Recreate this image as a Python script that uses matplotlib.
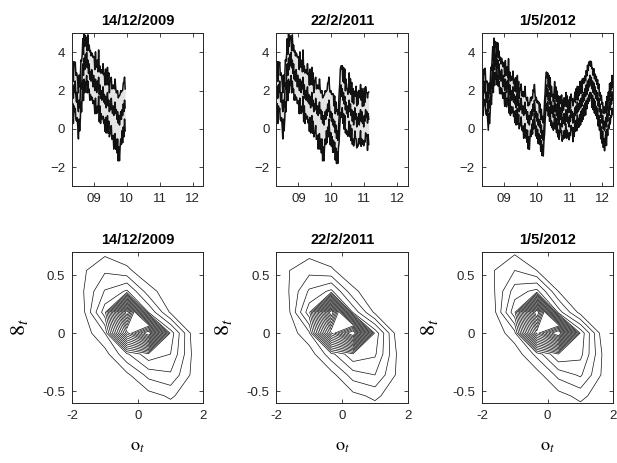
import numpy as np
import matplotlib
matplotlib.use("Agg")
from matplotlib import pyplot as plt

plt.rcParams['font.family'] = ['Liberation Sans', 'DejaVu Sans']
plt.rcParams['mathtext.fontset'] = 'stix'

#### data ####
titles = ["14/12/2009", "22/2/2011", "1/5/2012"]

# weekly path, starting early May 2008 (one row = one quarter)
start_year = 2008.333
steps_per_year = 52
mid = [1.8, 2.2, 1.6, 2.3, 1.9, 2.5, 1.7, 1.4, 1.9, 1.2, 0.9, 1.5, 1.1,
       1.8, 2.4, 2.1, 2.9, 3.4, 2.8, 3.7, 3.1, 3.9, 3.3, 4.0, 3.2, 3.6,
       2.9, 3.4, 2.6, 3.0, 2.5, 3.1, 2.7, 2.2, 2.8, 2.4, 2.0, 2.6, 2.3,
       1.9, 2.5, 2.1, 2.7, 1.8, 2.3, 1.6, 2.0, 1.5, 1.9, 2.2, 1.4, 1.8,
       1.3, 1.7, 1.1, 1.6, 1.9, 1.2, 1.5, 0.9, 1.3, 1.0, 1.6, 1.1, 0.8,
       1.2, 0.7, 1.1, 1.4, 0.8, 1.0, 0.5, 0.9, 0.3, 0.7, 0.2, 0.6, 0.9,
       0.5, 1.0, 0.7, 1.3, 0.9, 1.5, 1.1, 0.6, 0.9, 0.4, 0.8, 0.2, 0.5,
       0.1, 0.4, -0.2, 0.2, -0.5, -0.1, -0.6, 0.0, 0.6, 1.2, 1.8, 2.3, 1.7,
       2.1, 1.5, 1.9, 1.3, 1.7, 1.0, 1.4, 0.8, 1.2, 0.6, 1.1, 1.5, 0.9,
       1.3, 0.7, 1.0, 0.4, 0.9, 0.2, 0.6, 1.1, 0.5, 0.8, 0.1, 0.6, 0.3,
       0.8, 0.2, 0.7, 1.0, 0.4, 0.9, 0.3, 0.6, 0.1, 0.7, 0.4, 1.0, 0.6,
       0.9, 0.3, 0.8, 0.5, 1.1, 0.7, 1.2, 0.8, 1.4, 0.9, 1.3, 1.0, 1.5,
       1.1, 1.6, 1.2, 1.8, 1.4, 1.9, 1.5, 2.1, 1.7, 2.3, 1.8, 2.5, 2.0,
       2.6, 2.2, 2.8, 2.3, 2.7, 2.1, 2.5, 1.9, 2.4, 1.8, 2.2, 1.6, 2.0,
       1.5, 1.9, 1.2, 1.6, 0.9, 1.3, 0.6, 1.0, 0.3, 0.7, 0.0, 0.4, -0.1,
       0.3, 0.6, 0.1, 0.8, 0.4, 1.1, 0.7, 1.4, 1.0, 1.6, 1.3, 1.9, 1.5,
       1.8]
up_dev = [0.9, 1.2, 0.8, 1.1, 1.3, 0.9, 1.0, 1.4, 0.8, 1.1, 0.9, 1.2, 1.0,
          0.8, 1.1, 1.3, 0.9, 1.2, 1.0, 1.4, 1.1, 0.9, 1.3, 0.7, 0.8, 1.2,
          1.1, 0.9, 1.3, 1.0, 1.2, 0.8, 1.1, 1.4, 0.9, 1.2, 1.0, 1.3, 0.9,
          1.2, 1.0, 0.8, 1.3, 1.1, 0.9, 1.2, 1.0, 1.4, 0.9, 1.1, 1.3, 1.0,
          0.9, 1.3, 1.1, 0.8, 1.2, 1.0, 1.3, 0.9, 1.1, 1.4, 1.0, 0.9, 1.2,
          1.0, 1.3, 0.9, 1.1, 1.2, 0.8, 1.3, 1.0, 1.2, 0.9, 1.4, 1.1, 1.0,
          1.3, 0.9, 1.2, 1.0, 1.4, 1.1, 0.9, 1.2, 1.0, 1.3, 0.9, 1.5, 1.2,
          1.0, 1.2, 0.9, 1.1, 1.3, 1.0, 1.2, 0.9, 1.1, 1.0, 1.2, 0.9, 1.3,
          1.1, 0.9, 1.2, 1.0, 1.3, 0.9, 1.1, 1.2, 0.8, 1.1, 1.0, 1.3, 0.9,
          1.2, 1.0, 1.3, 0.9, 1.1, 1.0, 1.2, 0.8, 1.1, 1.3, 1.0, 1.2, 0.9,
          1.1, 1.3, 0.9, 1.2, 1.0, 1.1, 0.8, 1.2, 1.0, 1.3, 0.9, 1.1, 1.2,
          0.9, 1.2, 1.0, 1.3, 1.1, 0.9, 1.2, 1.0, 1.1, 0.8, 1.2, 1.0, 1.3,
          1.0, 1.2, 0.9, 1.1, 1.3, 1.0, 1.2, 0.9, 1.1, 1.0, 1.3, 1.1, 1.4,
          1.2, 1.5, 1.0, 1.3, 1.1, 1.4, 0.9, 1.2, 1.0, 1.1, 0.9, 1.2, 1.0,
          1.1, 0.9, 1.2, 1.0, 1.1, 0.8, 1.2, 1.0, 1.3, 0.9, 1.1, 1.0, 1.2,
          0.9, 1.1, 1.0, 1.2, 0.8, 1.1, 1.0, 1.3, 0.9, 1.1, 1.0, 1.2, 0.9,
          1.0]
lo_dev = [1.1, 0.8, 1.2, 1.0, 0.9, 1.3, 1.1, 0.9, 1.2, 1.0, 1.3, 0.9, 1.1,
          1.2, 0.9, 1.1, 1.0, 0.8, 1.2, 1.0, 1.1, 1.3, 0.9, 1.1, 1.2, 1.0,
          0.9, 1.2, 1.0, 1.1, 0.9, 1.3, 1.0, 0.8, 1.2, 1.0, 1.1, 0.9, 1.2,
          1.0, 1.2, 1.1, 0.9, 1.3, 1.0, 1.2, 1.1, 0.9, 1.2, 1.4, 1.0, 1.2,
          1.3, 1.0, 1.2, 1.4, 1.1, 1.3, 1.0, 1.2, 1.4, 1.1, 1.3, 1.5, 1.2,
          1.4, 1.6, 1.3, 1.5, 1.7, 1.4, 1.6, 1.3, 1.8, 1.5, 1.7, 1.4, 1.3,
          1.2, 1.0, 1.3, 1.1, 1.2, 0.9, 1.1, 1.3, 1.0, 1.2, 1.1, 1.3, 1.0,
          1.2, 1.0, 1.3, 1.1, 1.2, 1.0, 1.1, 0.9, 1.2, 1.0, 1.1, 1.3, 1.0,
          0.9, 1.1, 1.0, 1.2, 0.9, 1.1, 1.3, 1.0, 1.2, 0.9, 1.1, 1.0, 1.2,
          1.0, 1.2, 0.9, 1.1, 1.3, 1.0, 1.2, 1.1, 0.9, 1.2, 1.0, 1.3, 1.1,
          1.2, 0.9, 1.1, 1.0, 1.2, 1.3, 1.0, 1.1, 0.9, 1.2, 1.0, 1.1, 0.9,
          1.1, 1.3, 1.0, 1.2, 0.9, 1.1, 1.0, 1.2, 0.9, 1.1, 1.0, 1.2, 1.0,
          1.2, 0.9, 1.1, 1.0, 1.2, 0.9, 1.1, 1.0, 1.3, 1.1, 1.0, 1.2, 0.9,
          1.1, 1.0, 1.2, 0.9, 1.1, 1.3, 1.0, 1.2, 1.1, 1.3, 1.0, 1.2, 1.1,
          1.3, 1.1, 1.4, 1.2, 1.3, 1.1, 1.5, 1.2, 1.4, 1.1, 1.3, 1.2, 1.4,
          1.2, 1.0, 1.3, 1.1, 1.0, 1.2, 0.9, 1.1, 1.0, 1.2, 0.9, 1.1, 1.0,
          1.1]
n_points = [85, 147, 209]
band_scale = [1.1, 1.1, 0.75]

# density grids (rows top to bottom)
grid_x = [-1.67, -1.0, -0.33, 0.33, 1.0, 1.67]
grid_y = [0.72, 0.54, 0.36, 0.18, 0.0, -0.18, -0.36, -0.54, -0.72]
density_1 = [[0.0, 0.5, 0.0, 0.0, 0.0, 0.0],
             [0.8, 2.0, 1.3, 0.0, 0.0, 0.0],
             [0.9, 3.5, 4.8, 1.5, 0.2, 0.0],
             [0.6, 5.3, 24.0, 4.5, 0.8, 0.0],
             [0.2, 2.2, 16.0, 24.5, 5.3, 0.5],
             [0.0, 0.5, 3.2, 5.5, 4.6, 0.8],
             [0.0, 0.0, 0.7, 2.6, 3.2, 0.7],
             [0.0, 0.0, 0.0, 0.5, 1.2, 0.2],
             [0.0, 0.0, 0.0, 0.0, 0.0, 0.0]]
density_2 = [[0.0, 0.4, 0.0, 0.0, 0.0, 0.0],
             [0.9, 1.8, 1.2, 0.0, 0.0, 0.0],
             [0.8, 3.6, 4.9, 1.3, 0.1, 0.0],
             [0.4, 5.4, 24.2, 4.3, 0.7, 0.0],
             [0.1, 2.0, 16.5, 24.8, 5.4, 0.4],
             [0.0, 0.3, 3.0, 5.6, 4.8, 0.9],
             [0.0, 0.0, 0.5, 2.8, 3.4, 0.8],
             [0.0, 0.0, 0.0, 0.6, 1.3, 0.2],
             [0.0, 0.0, 0.0, 0.0, 0.0, 0.0]]
density_3 = [[0.0, 0.6, 0.0, 0.0, 0.0, 0.0],
             [0.9, 2.2, 1.0, 0.0, 0.0, 0.0],
             [0.7, 4.0, 5.0, 1.0, 0.0, 0.0],
             [0.3, 5.5, 24.5, 4.0, 0.5, 0.0],
             [0.0, 1.8, 17.0, 25.0, 5.5, 0.3],
             [0.0, 0.2, 2.6, 5.8, 5.0, 0.9],
             [0.0, 0.0, 0.4, 2.6, 3.6, 0.8],
             [0.0, 0.0, 0.0, 0.5, 1.4, 0.2],
             [0.0, 0.0, 0.0, 0.0, 0.0, 0.0]]
densities = [density_1, density_2, density_3]
levels = np.arange(1, 23, 1.2)

year_ticks = [2009, 2010, 2011, 2012]
year_labels = ["09", "10", "11", "12"]

#### figure ####
fig = plt.figure(figsize=(6.17, 4.63), dpi=100)
lefts = [0.1167, 0.448, 0.781]
width = 0.213

mid = np.array(mid)
up_dev = np.array(up_dev)
lo_dev = np.array(lo_dev)
t_all = start_year + np.arange(len(mid)) / steps_per_year


def style_axes(ax):
    ax.tick_params(direction='in', top=True, right=True, length=3,
                   width=0.6, labelsize=9.5, pad=5, colors='#262626')
    for sp in ax.spines.values():
        sp.set_linewidth(0.7)
        sp.set_color('#262626')


for k in range(3):
    # time series panel
    ax = fig.add_axes([lefts[k], 0.598, width, 0.330])
    n = n_points[k]
    t = t_all[:n]
    upper = mid[:n] + band_scale[k] * up_dev[:n]
    lower = mid[:n] - band_scale[k] * lo_dev[:n]
    ax.fill_between(t, lower, upper, color='#e3e3e3', lw=0)
    ax.plot(t, upper, color='#111111', lw=1.1)
    ax.plot(t, mid[:n], color='#111111', lw=1.1)
    ax.plot(t, lower, color='#111111', lw=1.1)
    ax.set_xlim(2008.33, 2012.33)
    ax.set_ylim(-3, 5)
    ax.set_xticks(year_ticks)
    ax.set_xticklabels(year_labels)
    ax.set_yticks([-2, 0, 2, 4])
    ax.set_title(titles[k], fontsize=10.5, fontweight='bold', pad=6)
    style_axes(ax)

    # density contour panel
    ax2 = fig.add_axes([lefts[k], 0.130, width, 0.326])
    X, Y = np.meshgrid(grid_x, grid_y)
    ax2.contour(X, Y, np.array(densities[k]), levels=levels,
                colors='#111111', linewidths=0.5)
    ax2.set_xlim(-2, 2)
    ax2.set_ylim(-0.6, 0.7)
    ax2.set_xticks([-2, 0, 2])
    ax2.set_yticks([-0.5, 0, 0.5])
    ax2.set_yticklabels(["-0.5", "0", "0.5"])
    ax2.set_xticklabels(["-2", "0", "2"])
    ax2.set_title(titles[k], fontsize=10.5, fontweight='bold', pad=6)
    ax2.set_xlabel(r'$\mathrm{o}_t$', fontsize=13, labelpad=12)
    ax2.set_ylabel(r'$8_t$', fontsize=16, labelpad=9)
    style_axes(ax2)

plt.savefig("out.png", dpi=100)
